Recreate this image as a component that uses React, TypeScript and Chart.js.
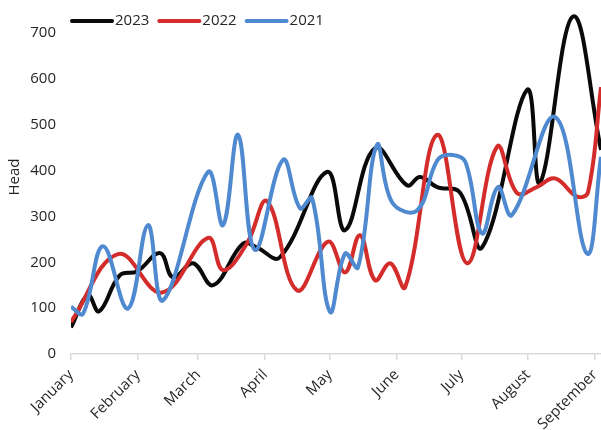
import React, { useEffect, useRef } from "react";
import { Chart, registerables } from "chart.js";

Chart.register(...registerables);

const monthLabels = ["January", "February", "March", "April", "May", "June", "July", "August", "September"];
const monthStartDays = [0, 31, 59, 90, 120, 151, 181, 212, 243];
const yTickValues = [0, 100, 200, 300, 400, 500, 600, 700];

const seriesNames = ["2023", "2022", "2021"];
const seriesColors = ["#0a0a0a", "#d42b2b", "#4f89cf"];

const days2023 = [0, 7.9, 13, 22.7, 30.6, 41.3, 47.3, 56.6, 65.9, 79.8, 86.3, 96.9, 118.7, 127.1, 141, 155.8, 161.9, 169.8, 180.4, 190.7, 211.5, 217.5, 232.8, 245.8];
const values2023 = [58, 128, 93, 172, 180, 220, 167, 198, 150, 241, 232, 211, 397, 270, 449, 368, 386, 364, 352, 233, 576, 373, 736, 445];

const days2022 = [0, 21.8, 42.2, 63.5, 70.5, 81.6, 90.9, 104.8, 119.2, 127.1, 134, 141, 148, 155, 169.8, 183.7, 197.6, 206.9, 216, 224.5, 234.7, 239.8, 245.8];
const values2022 = [70, 218, 134, 253, 183, 241, 333, 139, 245, 178, 259, 161, 198, 146, 478, 198, 452, 351, 364, 383, 343, 353, 582];

const days2021 = [0, 5.6, 14.8, 26.4, 35.7, 42.7, 63.5, 70.5, 77.5, 85.3, 98.3, 106.2, 111.8, 120.1, 127.1, 133.1, 141.9, 148.9, 160.5, 170, 177, 183, 190.6, 198, 204.5, 224.5, 239.3, 245.8];
const values2021 = [103, 88, 235, 99, 281, 117, 397, 281, 478, 227, 423, 318, 340, 92, 219, 189, 456, 331, 313, 423, 434, 418, 263, 364, 303, 517, 219, 430];

const allDays = [days2023, days2022, days2021];
const allValues = [values2023, values2022, values2021];

const FONT = "'Open Sans', 'Liberation Sans', sans-serif";
const TEXT = "#262626";

const legendPlugin = {
  id: "topLegend",
  afterDraw(chart: any) {
    const ctx = chart.ctx;
    const left = chart.chartArea.left + 1;
    const y = 21;
    ctx.save();
    ctx.font = `15px ${FONT}`;
    ctx.textBaseline = "middle";
    ctx.textAlign = "left";
    let x = left;
    chart.data.datasets.forEach((ds: any) => {
      ctx.strokeStyle = ds.borderColor;
      ctx.lineWidth = 4;
      ctx.lineCap = "round";
      ctx.beginPath();
      ctx.moveTo(x, y);
      ctx.lineTo(x + 40, y);
      ctx.stroke();
      ctx.fillStyle = TEXT;
      ctx.fillText(ds.label, x + 43, y);
      x += 43 + ctx.measureText(ds.label).width + 10;
    });
    ctx.restore();
  },
};

export default function App() {
  const ref = useRef<HTMLCanvasElement | null>(null);

  useEffect(() => {
    document.body.style.margin = "0";
    const canvas = ref.current;
    if (!canvas) return;
    const datasets = seriesNames.map((name, i) => ({
      label: name,
      data: allDays[i].map((d, j) => ({ x: d, y: allValues[i][j] })),
      borderColor: seriesColors[i],
      backgroundColor: seriesColors[i],
      borderWidth: 4,
      pointRadius: 0,
      tension: 0.4,
      fill: false,
      order: 2 - i,
    }));
    const chart = new Chart(canvas, {
      type: "line",
      data: { datasets },
      plugins: [legendPlugin],
      options: {
        animation: false,
        responsive: false,
        maintainAspectRatio: false,
        layout: { padding: { left: 6, right: 0, top: 0, bottom: 0 } },
        plugins: {
          legend: { display: false },
          tooltip: { enabled: false },
        },
        scales: {
          x: {
            type: "linear",
            min: 0,
            max: 245.8,
            afterBuildTicks: (scale: any) => {
              scale.ticks = monthStartDays.map((v) => ({ value: v }));
            },
            afterFit: (scale: any) => {
              scale.height = 76;
              scale.paddingLeft = 0;
              scale.paddingRight = 0;
            },
            ticks: {
              autoSkip: false,
              minRotation: 45,
              maxRotation: 45,
              color: TEXT,
              font: { family: FONT, size: 15 },
              padding: 6,
              callback: (value: any) => {
                const idx = monthStartDays.indexOf(Number(value));
                return idx >= 0 ? monthLabels[idx] : "";
              },
            },
            grid: {
              drawOnChartArea: false,
              drawTicks: true,
              tickLength: 6,
              color: "#d9d9d9",
              lineWidth: 1.5,
            },
            border: { display: true, color: "#d9d9d9", width: 1.5 },
          },
          y: {
            min: 0,
            max: 772,
            afterBuildTicks: (scale: any) => {
              scale.ticks = yTickValues.map((v) => ({ value: v }));
            },
            afterFit: (scale: any) => {
              scale.width = 65;
              scale.paddingTop = 0;
              scale.paddingBottom = 0;
            },
            ticks: {
              color: TEXT,
              font: { family: FONT, size: 15 },
              padding: 15,
            },
            grid: { display: false, drawTicks: false },
            border: { display: false },
            title: {
              display: true,
              text: "Head",
              color: TEXT,
              font: { family: FONT, size: 15 },
              padding: { top: 0, bottom: 0 },
            },
          },
        },
      },
    });
    return () => chart.destroy();
  }, []);

  return (
    <div style={{ width: 601, height: 430, position: "relative" }}>
      <canvas ref={ref} width={601} height={430} style={{ width: 601, height: 430 }} />
    </div>
  );
}
